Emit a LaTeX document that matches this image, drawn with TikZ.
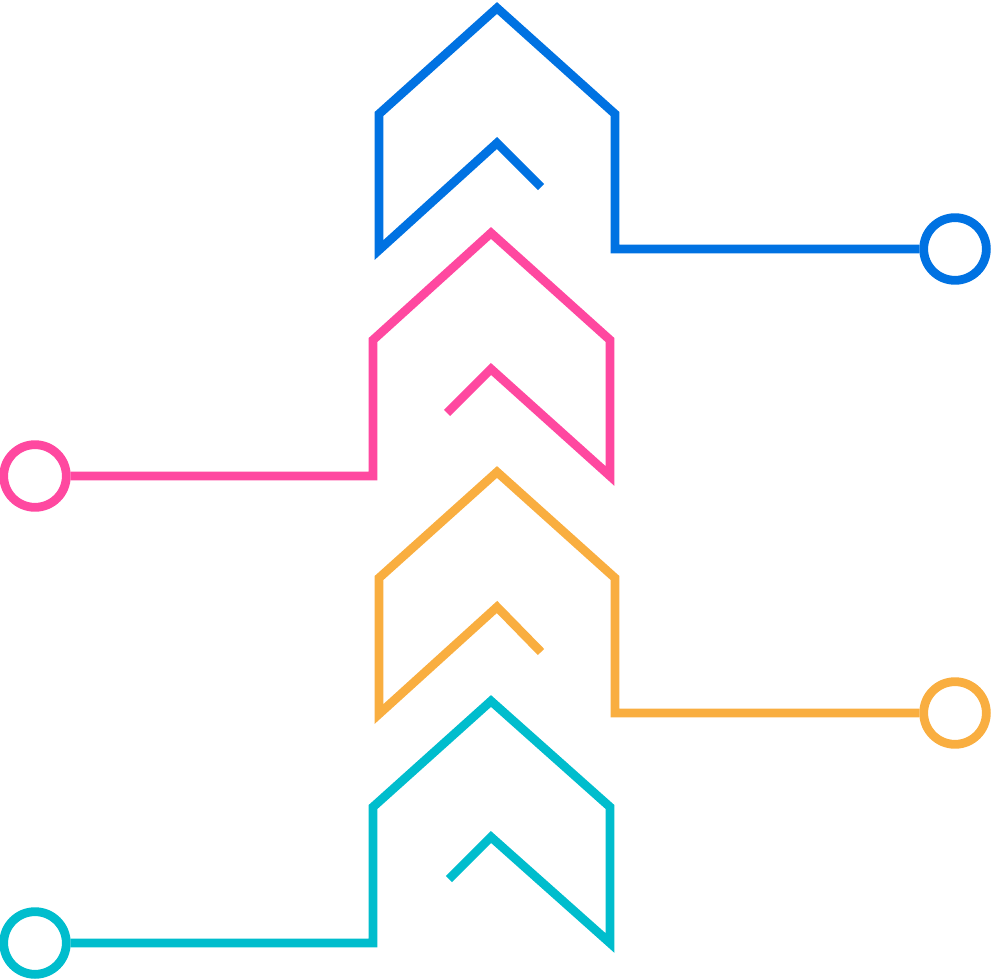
\documentclass[tikz,border=0pt]{standalone}
\definecolor{cblue}{RGB}{0,114,226}
\definecolor{cpink}{RGB}{255,72,160}
\definecolor{corange}{RGB}{249,174,64}
\definecolor{cteal}{RGB}{0,189,205}
\tikzset{
  trace/.style={line width=6.6pt, miter limit=10},
  dot/.style={circle, draw, line width=6.6pt, inner sep=0pt, minimum size=47pt}
}
\begin{document}
\begin{tikzpicture}[x=0.75pt,y=-0.75pt]
\useasboundingbox (0,0) rectangle (991,980);
% blue
\node[dot, cblue] (c1) at (955,249) {};
\coordinate (b1) at (541,187);
\draw[trace, cblue] (b1) -- (497,143) -- (379,250) -- (379,114) -- (497,8) -- (615,114) -- (615,249) -- (c1.west);
% pink
\node[dot, cpink] (c2) at (35,476) {};
\coordinate (p1) at (447,413);
\draw[trace, cpink] (p1) -- (491,369) -- (610,476) -- (610,340) -- (491,233) -- (373,340) -- (373,476) -- (c2.east);
% orange
\node[dot, corange] (c3) at (955,713) {};
\coordinate (o1) at (541,652);
\draw[trace, corange] (o1) -- (497,607) -- (379,714) -- (379,578) -- (497,472) -- (615,578) -- (615,713) -- (c3.west);
% teal
\node[dot, cteal] (c4) at (35,943) {};
\coordinate (t1) at (449,879);
\draw[trace, cteal] (t1) -- (491,837) -- (610,943) -- (610,807) -- (491,701) -- (373,807) -- (373,943) -- (c4.east);
\end{tikzpicture}
\end{document}
